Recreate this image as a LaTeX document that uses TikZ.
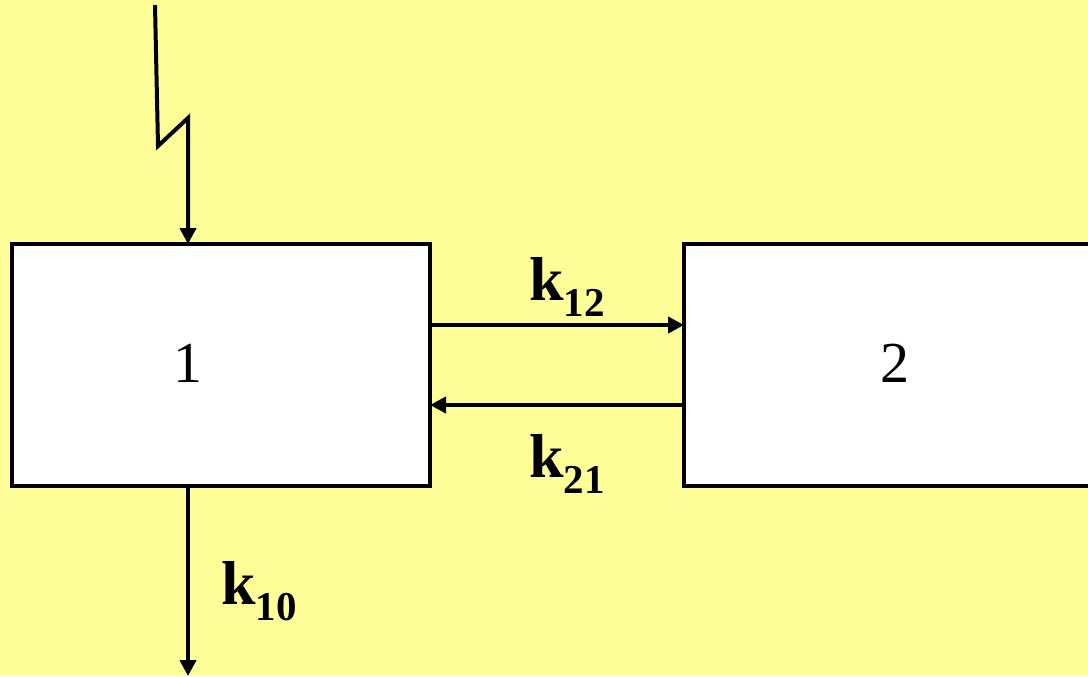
\documentclass[tikz,border=0pt]{standalone}
\usepackage{fontspec}
\setmainfont{Liberation Serif}
\usetikzlibrary{arrows.meta}
\definecolor{bg}{HTML}{FFFF99}
\newcommand{\klab}[2]{{\fontsize{31}{31}\selectfont\bfseries k\raisebox{-8pt}{\fontsize{20.5}{20.5}\selectfont #2}}}
\begin{document}
\begin{tikzpicture}[x=0.5pt,y=-0.5pt,
  box/.style={draw=black,fill=white,line width=2pt,outer sep=0pt,inner sep=0pt},
  arr/.style={line width=2pt,-{Triangle[length=8pt,width=8pt]}},
  lab/.style={anchor=base west,inner sep=0pt},
  num/.style={anchor=base,inner sep=0pt,font=\fontsize{29}{29}\selectfont}]
\fill[bg] (0,0) rectangle (1088,676);
\useasboundingbox (0,0) rectangle (1088,676);
\clip (0,0) rectangle (1088,676);
\node[box,minimum width=209pt,minimum height=121pt] (b1) at (221,365) {};
\node[box,minimum width=211pt,minimum height=121pt] (b2) at (895,365) {};
\node[num] (n1) at (188,382) {1};
\node[num] (n2) at (895,382) {2};
\coordinate (top) at (155,5);
\coordinate (zl) at (158,146);
\coordinate (in) at (188,118);
\coordinate (out) at (188,676);
\draw[arr,line join=miter] (top) -- (zl) -- (in) -- (in |- b1.north);
\draw[arr] ([yshift=20pt]b1.east) -- ([yshift=20pt]b1.east -| b2.west);
\draw[arr] ([yshift=-20pt]b2.west) -- ([yshift=-20pt]b2.west -| b1.east);
\draw[arr] (in |- b1.south) -- (out);
\node[lab] (k12) at (529,300) {\klab{k}{12}};
\node[lab] (k21) at (529,477) {\klab{k}{21}};
\node[lab] (k10) at (221,604) {\klab{k}{10}};
\end{tikzpicture}
\end{document}
